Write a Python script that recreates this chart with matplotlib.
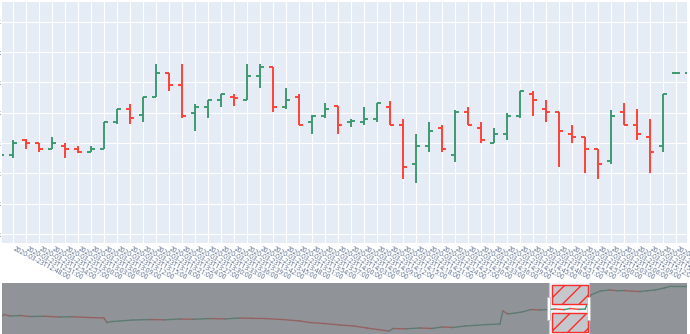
import matplotlib

matplotlib.use("Agg")
import matplotlib.dates as mdates
import matplotlib.pyplot as plt
import matplotlib.transforms as mtransforms
import numpy as np
import pandas as pd
from matplotlib.patches import Rectangle

# 3-minute OHLC bars shown in the main view (first and last are cut by the edges).
bar_times = pd.date_range("2020-03-23 12:45", periods=54, freq="3min")
bar_open = [6265.8, 6266.1, 6271.1, 6270.2, 6268.1, 6269.2, 6268.1, 6267.0, 6268.1, 6277.1,
            6281.2, 6279.2, 6285.1, 6293.2, 6289.2, 6280.0, 6282.0, 6284.2, 6285.2, 6284.1,
            6292.1, 6295.2, 6282.0, 6285.1, 6277.1, 6279.1, 6282.2, 6277.0, 6277.1, 6278.1,
            6282.0, 6276.1, 6263.1, 6269.1, 6275.1, 6266.0, 6280.2, 6275.1, 6270.0, 6273.0,
            6279.1, 6286.1, 6281.2, 6280.2, 6273.0, 6272.0, 6268.1, 6264.0, 6280.2, 6276.1,
            6272.0, 6269.1, 6293.2, 6293.2]
bar_high = [6266.8, 6271.1, 6271.3, 6270.2, 6272.1, 6270.0, 6269.1, 6269.1, 6277.1, 6281.2,
            6282.9, 6285.1, 6296.1, 6293.2, 6296.1, 6282.9, 6284.2, 6286.1, 6286.1, 6296.1,
            6296.1, 6295.2, 6288.1, 6286.1, 6279.2, 6283.1, 6282.2, 6277.9, 6282.0, 6283.2,
            6284.0, 6277.9, 6273.0, 6277.1, 6275.9, 6280.9, 6282.0, 6277.0, 6275.0, 6280.0,
            6287.2, 6287.1, 6284.1, 6280.2, 6276.0, 6272.1, 6268.1, 6280.9, 6283.1, 6281.2,
            6278.0, 6286.2, 6293.2, 6293.2]
bar_low = [6265.5, 6265.0, 6268.1, 6267.2, 6268.1, 6265.0, 6266.9, 6267.0, 6268.1, 6276.2,
           6276.2, 6277.1, 6285.1, 6287.2, 6278.2, 6274.1, 6278.2, 6282.0, 6282.2, 6284.1,
           6288.3, 6280.2, 6281.2, 6276.0, 6273.1, 6278.2, 6273.1, 6275.2, 6276.1, 6277.1,
           6276.0, 6258.1, 6257.0, 6267.1, 6267.1, 6263.9, 6276.0, 6270.2, 6270.0, 6271.1,
           6278.2, 6279.1, 6277.1, 6262.1, 6270.2, 6260.1, 6258.1, 6263.1, 6276.0, 6271.1,
           6260.1, 6267.1, 6293.2, 6293.2]
bar_close = [6266.1, 6270.2, 6270.0, 6268.1, 6270.2, 6268.1, 6267.0, 6268.1, 6277.1, 6281.2,
             6278.2, 6285.1, 6293.2, 6289.2, 6279.1, 6282.0, 6284.2, 6286.1, 6285.0, 6292.1,
             6295.2, 6282.0, 6284.1, 6276.0, 6279.0, 6281.2, 6276.1, 6277.3, 6278.1, 6283.1,
             6276.0, 6262.1, 6269.1, 6274.1, 6268.1, 6280.2, 6276.0, 6271.1, 6273.0, 6279.1,
             6287.1, 6284.1, 6280.2, 6274.1, 6272.0, 6268.1, 6263.1, 6279.1, 6276.1, 6273.0,
             6267.0, 6286.2, 6293.2, 6293.2]

y_ticks = [6240, 6250, 6260, 6270, 6280, 6290, 6300, 6310]
y_labels = ["6.24k", "6.25k", "6.26k", "6.27k", "6.28k", "6.29k", "6.3k", "6.31k"]

# Full history drawn in the range slider (hours after the start time).
ov_start = pd.Timestamp("2020-03-22 00:46")
ov_hours = [0, 0.13, 0.53, 1.2, 1.84, 2.8, 3.82, 4.6, 5.79, 6.71, 6.91, 7.24, 7.77, 8.62,
            9.74, 10.7, 11.72, 12.6, 13.69, 14.7, 15.67, 16.5, 17.31, 18.5, 19.62, 20.28,
            21.26, 22.25, 23.17, 24.03, 24.75, 25.48, 25.74, 26.6, 27.52, 28.3, 28.97,
            29.7, 30.48, 31.2, 31.93, 32.78, 32.98, 33.31, 33.77, 34.24, 34.83, 35.42,
            36.0, 36.4, 37.0, 37.4, 38.0, 38.4, 38.77, 39.4, 40.0, 40.5, 41.0, 41.5, 42.0,
            42.5, 43.0, 43.6, 44.1, 45.1]
ov_close = [6198, 6214, 6198, 6203, 6192, 6195, 6187, 6190, 6181, 6176, 6126, 6137, 6143,
            6154, 6159, 6156, 6165, 6162, 6170, 6166, 6176, 6172, 6170, 6159, 6143, 6126,
            6115, 6099, 6088, 6066, 6049, 6033, 6060, 6057, 6066, 6061, 6077, 6072, 6088,
            6095, 6104, 6110, 6253, 6220, 6231, 6242, 6269, 6264, 6269, 6275, 6268, 6280,
            6271, 6275, 6429, 6473, 6484, 6476, 6478, 6470, 6467, 6476, 6484, 6506, 6528,
            6528]

GREEN = "#3D9970"
RED = "#FF4136"
TEXT = "#2a3f5f"

plt.rcParams["font.family"] = ["Open Sans", "DejaVu Sans"]
plt.rcParams["hatch.linewidth"] = 1.0

fig = plt.figure(figsize=(6.9, 3.34), dpi=100)
ax = fig.add_axes([2 / 690, 1 - 243 / 334, 685 / 690, 241 / 334])
sl = fig.add_axes([2 / 690, 0, 685 / 690, 51 / 334])

# --- main OHLC view ---
t = mdates.date2num(bar_times.to_pydatetime())
o = np.array(bar_open)
h = np.array(bar_high)
l = np.array(bar_low)
c = np.array(bar_close)

# plotly rule: flat bar takes the direction from the previous close
up = []
prev_up = True
for i in range(len(c)):
    if c[i] != o[i]:
        prev_up = c[i] > o[i]
    elif i > 0 and c[i] != c[i - 1]:
        prev_up = c[i] > c[i - 1]
    up.append(prev_up)
colors = [GREEN if u else RED for u in up]

half = 0.9 / 1440
ax.vlines(t, l, h, colors=colors, lw=1.4, zorder=3)
ax.hlines(o, t - half, t, colors=colors, lw=1.4, zorder=3)
ax.hlines(c, t, t + half, colors=colors, lw=1.4, zorder=3)

x0 = mdates.date2num(pd.Timestamp("2020-03-23 12:45:23"))
x1 = mdates.date2num(pd.Timestamp("2020-03-23 15:23:27"))
ax.set_xlim(x0, x1)
ax.set_ylim(6237.1, 6316.5)
ax.set_facecolor("#E5ECF6")
for s in ax.spines.values():
    s.set_visible(False)

ticks = t[1:53]
ax.set_xticks(ticks)
ax.set_xticklabels([d.strftime("%Y-%m-%dT%H:%M:%S") for d in bar_times[1:53]],
                   rotation=-28, ha="left", va="center", rotation_mode="anchor",
                   fontsize=4.7, color="#55688a")
ax.set_yticks(y_ticks)
ax.set_yticklabels(y_labels, fontsize=4.8, color=TEXT)
ax.tick_params(axis="x", length=0, pad=4)
ax.tick_params(axis="y", length=0, pad=0.2)
ax.grid(True, color="white", lw=0.8, zorder=0)
ax.set_axisbelow(True)

# --- range slider ---
ov_t = mdates.date2num([ov_start + pd.Timedelta(hours=hh) for hh in ov_hours])
ov_c = np.array(ov_close)
seg_colors = [GREEN if ov_c[i + 1] >= ov_c[i] else RED for i in range(len(ov_c) - 1)]
for i in range(len(ov_c) - 1):
    sl.plot(ov_t[i:i + 2], ov_c[i:i + 2], color=seg_colors[i], lw=1.0, zorder=2)

sl.set_xlim(ov_t[0], ov_t[-1])
sl.set_ylim(6000, 6561)
sl.set_facecolor("#eef1f5")
sl.set_xticks([])
sl.set_yticks([])
for s in sl.spines.values():
    s.set_visible(False)

# mask outside the selected window
sl.axvspan(ov_t[0], x0, color="#6c7074", alpha=0.72, lw=0, zorder=4)
sl.axvspan(x1, ov_t[-1], color="#6c7074", alpha=0.72, lw=0, zorder=4)
sl.axvline(x0, color="#c8c8c8", lw=0.8, zorder=5)
sl.axvline(x1, color="#c8c8c8", lw=0.8, zorder=5)

trans = mtransforms.blended_transform_factory(sl.transData, sl.transAxes)
px = (x1 - x0) / 40  # one slider pixel in date units
for y_lo, y_hi in [(0.59, 0.96), (0.04, 0.41)]:
    sl.add_patch(Rectangle((x0 + 3 * px, y_lo), (x1 - x0) - 4 * px, y_hi - y_lo,
                           transform=trans, facecolor="#c4c8cd", edgecolor="#ff2a2a",
                           hatch="//", lw=1.0, zorder=6))
for xe in (x0, x1):
    sl.add_patch(Rectangle((xe - 1.2 * px, 0.27), 2.4 * px, 0.46, transform=trans,
                           facecolor="white", edgecolor="#bbbbbb", lw=0.5, zorder=7))

fig.savefig("out.png", dpi=100)
